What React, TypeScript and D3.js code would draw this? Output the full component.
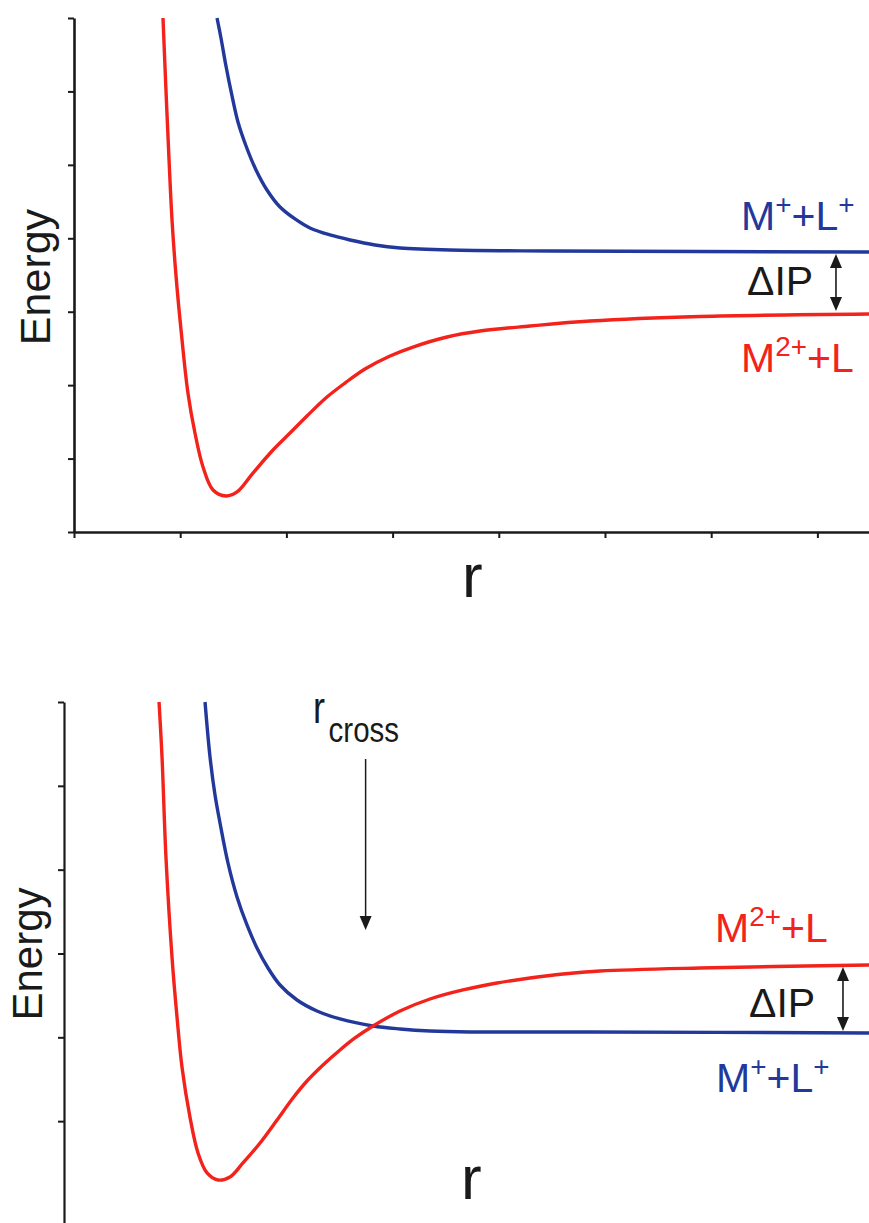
import React, { useEffect, useRef } from "react";
import * as d3 from "d3";

const W = 869;
const H = 1223;

const RED = "#f3221b";
const BLUE = "#22399b";
const INK = "#1a1a1a";
const FONT = "'Liberation Sans', Arial, Helvetica, sans-serif";

// Upper panel: M2+ + L lies below M+ + L+ at large r
const topRed: [number, number][] = [
  [0.838, 7.0], [0.866, 6.019], [0.895, 5.066], [0.923, 4.249], [0.96, 3.5],
  [1.008, 2.751], [1.073, 1.893], [1.139, 1.348], [1.215, 0.885], [1.309, 0.572],
  [1.431, 0.49], [1.535, 0.545], [1.685, 0.803], [1.874, 1.117], [2.034, 1.348],
  [2.194, 1.58], [2.382, 1.838], [2.552, 2.029], [2.74, 2.22], [2.976, 2.397],
  [3.192, 2.519], [3.512, 2.656], [3.823, 2.737], [4.294, 2.805], [4.859, 2.873],
  [5.895, 2.935], [7.486, 2.969],
];
const topBlue: [number, number][] = [
  [1.347, 7.0], [1.384, 6.727], [1.431, 6.346], [1.488, 5.938], [1.544, 5.583],
  [1.62, 5.257], [1.714, 4.93], [1.817, 4.658], [1.94, 4.426], [2.081, 4.263],
  [2.222, 4.14], [2.411, 4.045], [2.599, 3.977], [2.834, 3.909], [3.07, 3.868],
  [3.54, 3.84], [4.482, 3.827], [7.486, 3.813],
];

// Lower panel: the two curves cross at r_cross
const bottomRed: [number, number][] = [
  [0.895, 6.0], [0.923, 5.344], [0.96, 4.151], [1.017, 2.958], [1.064, 2.243],
  [1.111, 1.646], [1.186, 1.05], [1.262, 0.62], [1.347, 0.382], [1.45, 0.298],
  [1.563, 0.334], [1.685, 0.501], [1.846, 0.74], [2.006, 1.014], [2.156, 1.276],
  [2.288, 1.479], [2.439, 1.67], [2.599, 1.849], [2.74, 1.992], [2.91, 2.135],
  [3.164, 2.314], [3.446, 2.457], [3.757, 2.565], [4.077, 2.648], [4.388, 2.708],
  [4.699, 2.756], [5.047, 2.791], [5.989, 2.827], [7.58, 2.863],
];
const bottomBlue: [number, number][] = [
  [1.328, 6.0], [1.375, 5.344], [1.422, 4.891], [1.469, 4.557], [1.544, 4.08],
  [1.629, 3.674], [1.723, 3.34], [1.817, 3.066], [1.921, 2.827], [2.034, 2.624],
  [2.194, 2.445], [2.382, 2.314], [2.599, 2.219], [2.91, 2.135], [3.164, 2.1],
  [3.446, 2.076], [3.823, 2.064], [4.953, 2.064], [7.58, 2.052],
];

const topYTicks = [0, 1, 2, 3, 4, 5, 6, 7];
const topXTicks = [0, 1, 2, 3, 4, 5, 6, 7];
const bottomYTicks = [1, 2, 3, 4, 5, 6];

// Annotation positions in data units
const topGapR = 7.175;
const bottomGapR = 7.335;
const crossArrowR = 2.84;
const crossArrowE: [number, number] = [5.32, 3.28];

type Part = [string, "n" | "sup" | "sub"];

export default function App() {
  const ref = useRef<SVGSVGElement>(null);

  useEffect(() => {
    const svg = d3.select(ref.current);
    svg.selectAll("*").remove();
    svg.attr("font-family", FONT);

    const label = (
      x: number,
      y: number,
      size: number,
      color: string,
      parts: Part[]
    ) => {
      const t = svg
        .append("text")
        .attr("x", x)
        .attr("y", y)
        .attr("fill", color)
        .attr("font-size", size);
      let cur = 0;
      parts.forEach(([s, k]) => {
        const target = k === "sup" ? -size * 0.38 : k === "sub" ? size * 0.48 : 0;
        t.append("tspan")
          .attr("dy", target - cur)
          .attr("font-size", k === "n" ? size : size * 0.68)
          .text(s);
        cur = target;
      });
      return t;
    };

    const arrowHead = (x: number, y: number, dir: 1 | -1) => {
      // dir 1 points down, -1 points up; (x, y) is the tip
      const hw = 6;
      const len = 14;
      svg
        .append("path")
        .attr("d", `M${x},${y} L${x - hw},${y - dir * len} L${x + hw},${y - dir * len} Z`)
        .attr("fill", INK);
    };

    const line = (xs: d3.ScaleLinear<number, number>, ys: d3.ScaleLinear<number, number>) =>
      d3
        .line<[number, number]>()
        .x((d) => xs(d[0]))
        .y((d) => ys(d[1]))
        .curve(d3.curveCatmullRom.alpha(0.5));

    // ---------- Upper panel ----------
    const xT = d3.scaleLinear().domain([0, 7.486]).range([74, 869]);
    const yT = d3.scaleLinear().domain([0, 7]).range([532, 18]);

    const gyT = svg
      .append("g")
      .attr("transform", `translate(${xT(0)},0)`)
      .call(
        d3.axisLeft(yT).tickValues(topYTicks).tickSize(6).tickSizeOuter(0).tickFormat(() => "")
      );
    const gxT = svg
      .append("g")
      .attr("transform", `translate(0,${yT(0)})`)
      .call(
        d3.axisBottom(xT).tickValues(topXTicks).tickSize(6).tickSizeOuter(0).tickFormat(() => "")
      );
    [gyT, gxT].forEach((g) => {
      g.select(".domain").attr("stroke", INK).attr("stroke-width", 2.6);
      g.selectAll(".tick line").attr("stroke", INK).attr("stroke-width", 2);
    });

    svg
      .append("path")
      .datum(topBlue)
      .attr("d", line(xT, yT))
      .attr("fill", "none")
      .attr("stroke", BLUE)
      .attr("stroke-width", 3.4);
    svg
      .append("path")
      .datum(topRed)
      .attr("d", line(xT, yT))
      .attr("fill", "none")
      .attr("stroke", RED)
      .attr("stroke-width", 3.4);

    svg
      .append("text")
      .attr("transform", `translate(50,277) rotate(-90)`)
      .attr("text-anchor", "middle")
      .attr("font-size", 43)
      .attr("fill", INK)
      .text("Energy");

    svg
      .append("text")
      .attr("x", 462)
      .attr("y", 597)
      .attr("font-size", 62)
      .attr("fill", INK)
      .text("r");

    label(741, 230, 41, BLUE, [["M", "n"], ["+", "sup"], ["+L", "n"], ["+", "sup"]]);
    label(747, 295, 41, INK, [["ΔIP", "n"]]);
    label(741, 372, 41, RED, [["M", "n"], ["2+", "sup"], ["+L", "n"]]);

    {
      const x = xT(topGapR);
      const y1 = yT(topBlue[topBlue.length - 1][1]) + 2;
      const y2 = yT(topRed[topRed.length - 1][1]) - 3;
      svg
        .append("line")
        .attr("x1", x)
        .attr("x2", x)
        .attr("y1", y1 + 6)
        .attr("y2", y2 - 6)
        .attr("stroke", INK)
        .attr("stroke-width", 1.6);
      arrowHead(x, y1, -1);
      arrowHead(x, y2, 1);
    }

    // ---------- Lower panel ----------
    const xB = d3.scaleLinear().domain([0, 7.58]).range([64, 869]);
    const yB = d3.scaleLinear().domain([-0.215, 6]).range([1223, 702]);

    const gyB = svg
      .append("g")
      .attr("transform", `translate(${xB(0)},0)`)
      .call(
        d3.axisLeft(yB).tickValues(bottomYTicks).tickSize(6).tickSizeOuter(0).tickFormat(() => "")
      );
    gyB.select(".domain").attr("stroke", INK).attr("stroke-width", 2.2);
    gyB.selectAll(".tick line").attr("stroke", INK).attr("stroke-width", 2);

    svg
      .append("path")
      .datum(bottomBlue)
      .attr("d", line(xB, yB))
      .attr("fill", "none")
      .attr("stroke", BLUE)
      .attr("stroke-width", 3.4);
    svg
      .append("path")
      .datum(bottomRed)
      .attr("d", line(xB, yB))
      .attr("fill", "none")
      .attr("stroke", RED)
      .attr("stroke-width", 3.4);

    svg
      .append("text")
      .attr("transform", `translate(42,954) rotate(-90)`)
      .attr("text-anchor", "middle")
      .attr("font-size", 42)
      .attr("fill", INK)
      .text("Energy");

    svg
      .append("text")
      .attr("x", 461)
      .attr("y", 1199)
      .attr("font-size", 62)
      .attr("fill", INK)
      .text("r");

    label(715, 942, 41, RED, [["M", "n"], ["2+", "sup"], ["+L", "n"]]);
    label(749, 1017, 41, INK, [["ΔIP", "n"]]);
    label(716, 1092, 41, BLUE, [["M", "n"], ["+", "sup"], ["+L", "n"], ["+", "sup"]]);

    {
      const x = xB(bottomGapR);
      const y1 = yB(bottomRed[bottomRed.length - 1][1]) + 2;
      const y2 = yB(bottomBlue[bottomBlue.length - 1][1]) - 2;
      svg
        .append("line")
        .attr("x1", x)
        .attr("x2", x)
        .attr("y1", y1 + 6)
        .attr("y2", y2 - 6)
        .attr("stroke", INK)
        .attr("stroke-width", 1.6);
      arrowHead(x, y1, -1);
      arrowHead(x, y2, 1);
    }

    // r_cross marker
    {
      const g = svg.append("g").attr("transform", "translate(313,723) scale(0.82,1)");
      g.append("text").attr("x", 0).attr("y", 0).attr("font-size", 44).attr("fill", INK).text("r");
      g.append("text").attr("x", 19).attr("y", 19).attr("font-size", 36).attr("fill", INK).text("cross");

      const x = xB(crossArrowR);
      const y1 = yB(crossArrowE[0]);
      const y2 = yB(crossArrowE[1]);
      svg
        .append("line")
        .attr("x1", x)
        .attr("x2", x)
        .attr("y1", y1)
        .attr("y2", y2 - 8)
        .attr("stroke", INK)
        .attr("stroke-width", 1.5);
      arrowHead(x, y2, 1);
    }
  }, []);

  return (
    <svg
      ref={ref}
      width={W}
      height={H}
      style={{ position: "absolute", left: 0, top: 0, background: "#fff" }}
    />
  );
}
